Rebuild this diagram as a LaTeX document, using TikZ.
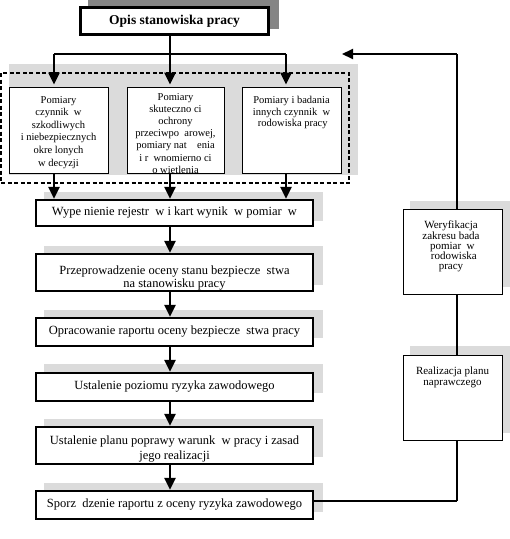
\documentclass[tikz,border=0pt]{standalone}
\usepackage{fontspec}
\setmainfont{Liberation Serif}
\usetikzlibrary{arrows.meta,calc}
\begin{document}
\begin{tikzpicture}[x=1pt,y=-1pt,
  shadowL/.style={fill=black!14,draw=none},
  shadowD/.style={fill=black!48,draw=none},
  mainbox/.style={draw,line width=2.2pt,fill=white,minimum width=277pt,inner sep=0pt,
    font=\fontsize{12.5}{13}\selectfont},
  smallbox/.style={draw,line width=1pt,fill=white,inner sep=0pt},
  txt/.style={inner sep=0pt,align=center,font=\fontsize{10.5}{12.6}\selectfont},
  rtxt/.style={inner sep=0pt,align=center,font=\fontsize{11}{10}\selectfont},
  mtxt/.style={inner sep=0pt,align=center,font=\fontsize{12.5}{13.5}\selectfont},
  thickline/.style={line width=2.5pt},
  flow/.style={line width=2.5pt,-{Triangle[length=12pt,width=11pt]}},
  back/.style={line width=2pt},
  thinline/.style={line width=1.2pt},
]
\useasboundingbox (0,0) rectangle (510,539);

% shadows
\fill[shadowD] (88,-3) rectangle (279,29);
\fill[shadowL] (9,64) rectangle (358,175);
\foreach \t/\b in {192/221, 246/285, 310/338, 364/393, 419/457, 483/512}
  \fill[shadowL] (44,\t) rectangle (323,\b);
\fill[shadowL] (410,201) rectangle (510,287);
\fill[shadowL] (410,346) rectangle (510,433);

% top box
\node[draw,line width=2.6pt,fill=white,minimum width=188pt,minimum height=27pt,inner sep=0pt,
  font=\fontsize{13.5}{15}\selectfont\bfseries] (top) at (174.5,21) {Opis stanowiska pracy};

% dashed group
\draw[line width=2pt,dash pattern=on 4pt off 2.5pt] (1,73) rectangle (349,183);

% inner boxes
\node[smallbox,minimum width=99pt,minimum height=86pt] (m1) at (58.5,130) {};
\node[smallbox,minimum width=97pt,minimum height=86pt] (m2) at (175.5,130) {};
\node[smallbox,minimum width=99pt,minimum height=86pt] (m3) at (291.5,130) {};

\begin{scope}
\clip (m1.south west) rectangle (m1.north east);
\node[txt,anchor=north] (t1) at (58.5,96) {Pomiary\\ czynnik\ \ w\\ szkodliwych\\ i niebezpiecznych\\ okre\ lonych\\ w decyzji};
\end{scope}
\begin{scope}
\clip (m2.south west) rectangle (m2.north east);
\node[txt,anchor=north,font=\fontsize{10.5}{12.2}\selectfont] (t2) at (175.5,93) {Pomiary\\ skuteczno\ ci\\ ochrony\\ przeciwpo\ \ arowej,\\ pomiary nat\ \ \ \ enia\\ i r\ \ wnomierno\ ci\\ o\ wietlenia};
\end{scope}
\node[txt,anchor=north,font=\fontsize{10.5}{11.6}\selectfont] (t3) at (291.5,96) {Pomiary i badania\\ innych czynnik\ \ w\\ \ rodowiska pracy};

% main boxes
\node[mainbox,minimum height=26pt] (w1) at (174.5,213) {Wype\ nienie rejestr\ \ w i kart wynik\ \ w pomiar\ \ w};
\node[mainbox,minimum height=37pt] (w2) at (174.5,272.5) {};
\begin{scope}
\clip ($(w2.south west)+(1.1,-1.1)$) rectangle (w2.north east);
\node[mtxt,anchor=north] (t5) at (174.5,265.5) {Przeprowadzenie oceny stanu bezpiecze\ \ stwa\\ na stanowisku pracy};
\end{scope}
\node[mainbox,minimum height=28pt] (w3) at (174.5,332) {Opracowanie raportu oceny bezpiecze\ \ stwa pracy};
\node[mainbox,minimum height=28pt] (w4) at (174.5,387) {Ustalenie poziomu ryzyka zawodowego};
\node[mainbox,minimum height=37pt] (w5) at (174.5,445.5) {};
\begin{scope}
\clip ($(w5.south west)+(1.1,-1.1)$) rectangle (w5.north east);
\node[mtxt,anchor=north,font=\fontsize{12.5}{15.5}\selectfont] (t6) at (174.5,435.5) {Ustalenie planu poprawy warunk\ \ w pracy i zasad\\ jego realizacji};
\end{scope}
\node[mainbox,minimum height=28pt] (w6) at (174.5,505) {Sporz\ \ dzenie raportu z oceny ryzyka zawodowego};

% right boxes
\node[smallbox,minimum width=99pt,minimum height=85pt] (r1) at (452.5,251.5) {};
\node[rtxt,anchor=north] (t7) at (451,221) {Weryfikacja\\ zakresu bada\ \ \\ \ pomiar\ \ w\\ \ \ rodowiska\\ pracy};
\node[smallbox,minimum width=99pt,minimum height=85pt] (r2) at (452.5,397.5) {};
\node[rtxt,anchor=north,font=\fontsize{11}{11}\selectfont] (t8) at (452.5,367) {Realizacja planu\\ naprawczego};

% coordinates
\coordinate (jl) at (54,54);
\coordinate (jm) at (170,54);
\coordinate (jr) at (286,54);
\coordinate (fbB) at (457,501);
\coordinate (fbT) at (457,54);
\coordinate (fbE) at (342,54);

% connectors
\draw[thickline] (top.south -| jm) -- (jm);
\draw[thickline] (jl) -- (jr);
\draw[flow,shorten >=2pt] (jl) -- (jl |- m1.north);
\draw[flow,shorten >=2pt] (jm) -- (jm |- m2.north);
\draw[flow,shorten >=2pt] (jr) -- (jr |- m3.north);
\draw[flow] (m1.south -| jl) -- (w1.north -| jl);
\draw[flow] (m2.south -| jm) -- (w1.north -| jm);
\draw[flow] (m3.south -| jr) -- (w1.north -| jr);
\draw[flow] (w1.south -| jm) -- (w2.north -| jm);
\draw[flow] (w2.south -| jm) -- (w3.north -| jm);
\draw[flow] (w3.south -| jm) -- (w4.north -| jm);
\draw[flow] (w4.south -| jm) -- (w5.north -| jm);
\draw[flow] (w5.south -| jm) -- (w6.north -| jm);

\draw[back] (w6.east |- fbB) -- (fbB);
\draw[thinline] (fbB) -- (r2.south -| fbB);
\draw[thinline] (r2.north -| fbB) -- (r1.south -| fbB);
\draw[thinline] (r1.north -| fbB) -- (fbT);
\draw[back,-{Triangle[length=11pt,width=10pt]}] (fbT) -- (fbE);
\end{tikzpicture}
\end{document}
